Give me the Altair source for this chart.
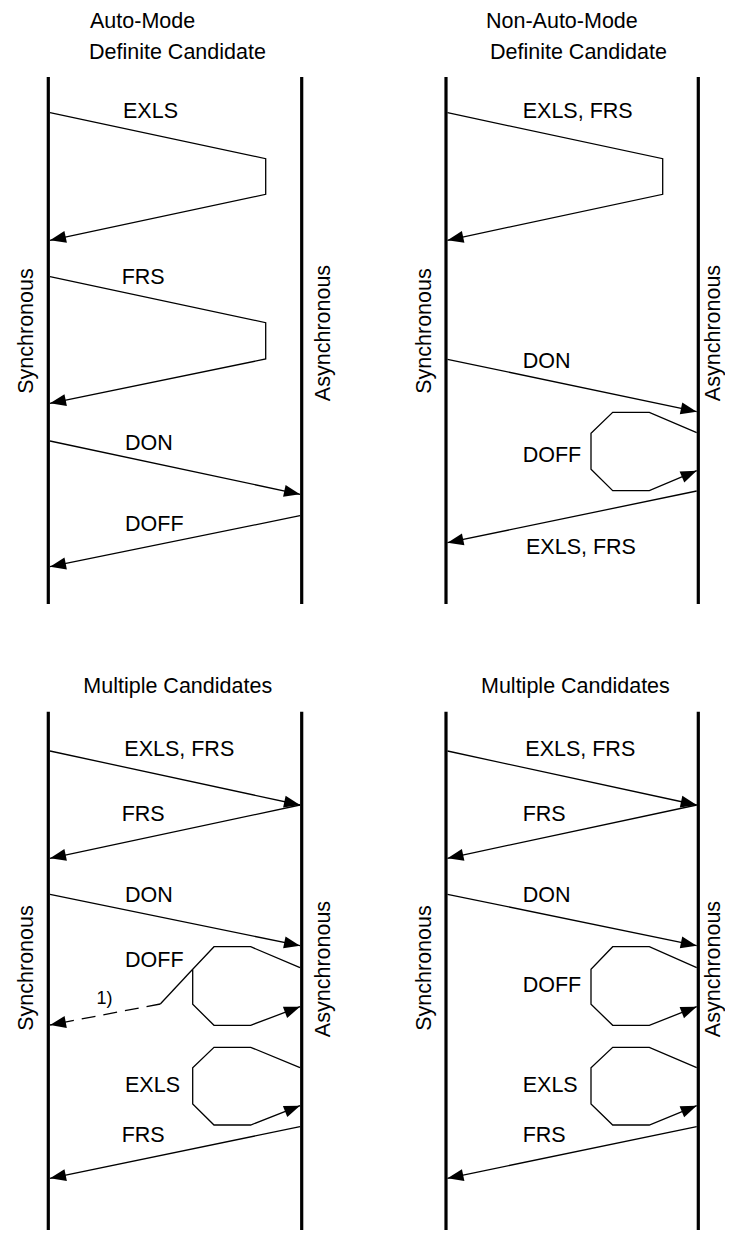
import math
import altair as alt
import pandas as pd

FONT = "Liberation Sans, Arial, sans-serif"
FS = 21.5

# ---------------- lifelines ----------------
life_x      = [48.3, 301.7, 446.0, 698.3, 48.3, 301.7, 446.0, 698.3]
life_top    = [77, 77, 77, 77, 711.7, 711.7, 711.7, 711.7]
life_bottom = [604, 604, 604, 604, 1240, 1240, 1240, 1240]

# ---------------- panel titles ----------------
title_text = ["Auto-Mode", "Definite Candidate", "Non-Auto-Mode", "Definite Candidate",
              "Multiple Candidates", "Multiple Candidates"]
title_x = [90, 89, 486, 490, 83.3, 481]
title_y = [29.3, 60, 29.3, 60, 694.3, 694.3]

# ---------------- messages (polylines) ----------------
msg_name = [
    "A_EXLS", "A_FRS", "A_DON", "A_DOFF",
    "B_EXLSFRS", "B_DON", "B_DOFF", "B_EXLSFRS2",
    "C_EXLSFRS", "C_FRS", "C_DON", "C_DOFF", "C_FN_SOLID", "C_FN_DASH", "C_EXLS", "C_FRS2",
    "D_EXLSFRS", "D_FRS", "D_DON", "D_DOFF", "D_EXLS", "D_FRS2",
]
msg_x = [
    [50, 265.7, 265.7, 50], [50, 265.7, 265.7, 50], [50, 300], [300, 50],
    [447.5, 662.7, 662.7, 447.5], [447.5, 696.7],
    [696.7, 649.3, 612.7, 591, 591, 612.7, 649.3, 696.7], [696.7, 447.5],
    [50, 300], [300, 50], [50, 300],
    [300, 250.7, 214, 192.7, 192.7, 214, 250.7, 300],
    [192.7, 160.3], [160.3, 50],
    [300, 250.7, 214, 192.7, 192.7, 214, 250.7, 300], [300, 50],
    [447.5, 696.7], [696.7, 447.5], [447.5, 696.7],
    [696.7, 649.3, 612.7, 591, 591, 612.7, 649.3, 696.7],
    [696.7, 649.3, 612.7, 591, 591, 612.7, 649.3, 696.7], [696.7, 447.5],
]
msg_y = [
    [112.7, 158.7, 194.3, 240.3], [276.7, 322.7, 359, 403.3], [441, 494.3], [515.7, 566.7],
    [112.7, 158.7, 194.3, 240.3], [359.3, 411.7],
    [432.7, 412.3, 412.3, 433.3, 469.3, 490.7, 490.7, 470.7], [491, 542.7],
    [751, 805], [805, 858.3], [894.3, 945.7],
    [967.7, 946.7, 946.7, 969.3, 1004.3, 1025.3, 1025.3, 1006.7],
    [969.3, 1004], [1004, 1025],
    [1067.7, 1047.3, 1047.3, 1067.7, 1104, 1125, 1125, 1105.7], [1126.7, 1178.3],
    [751, 805], [805, 858.3], [894.3, 945.7],
    [967.7, 946.7, 946.7, 969.3, 1004.3, 1025.3, 1025.3, 1006.7],
    [1067.7, 1047.3, 1047.3, 1067.7, 1104, 1125, 1125, 1105.7], [1126.7, 1178.3],
]
msg_dashed = [n == "C_FN_DASH" for n in msg_name]
msg_arrow = [n != "C_FN_SOLID" for n in msg_name]

# ---------------- message labels ----------------
label_text = ["EXLS", "FRS", "DON", "DOFF",
              "EXLS, FRS", "DON", "DOFF", "EXLS, FRS",
              "EXLS, FRS", "FRS", "DON", "DOFF", "EXLS", "FRS",
              "EXLS, FRS", "FRS", "DON", "DOFF", "EXLS", "FRS"]
label_x = [123, 121.7, 125, 125,
           522.7, 522.7, 522.7, 526,
           124.3, 121.7, 125, 125, 125, 121.7,
           525.3, 522.7, 522.7, 522.7, 522.7, 522.7]
label_y = [119.3, 285, 450.7, 532.3,
           119.3, 369, 462.7, 555,
           757.3, 821.7, 903.3, 968.3, 1093.3, 1142.7,
           757.3, 821.7, 903.3, 993.3, 1093.3, 1142.7]

note_text = ["1)"]
note_x = [96.5]
note_y = [1004]

# ---------------- lifeline names (vertical) ----------------
side_text = ["Synchronous", "Asynchronous", "Synchronous", "Asynchronous",
             "Synchronous", "Asynchronous", "Synchronous", "Asynchronous"]
side_x = [33, 330, 431, 720, 33, 330, 431, 720]
side_y = [331, 333, 331, 333, 968, 969, 968, 969]

# ---------------- build tables ----------------
life_df = pd.DataFrame({"x": life_x, "y": life_top, "y2": life_bottom})
title_df = pd.DataFrame({"t": title_text, "x": title_x, "y": title_y})
label_df = pd.DataFrame({"t": label_text, "x": label_x, "y": label_y})
note_df = pd.DataFrame({"t": note_text, "x": note_x, "y": note_y})
side_df = pd.DataFrame({"t": side_text, "x": side_x, "y": side_y})

rows, arrows = [], []
for name, xs, ys, dashed, arrow in zip(msg_name, msg_x, msg_y, msg_dashed, msg_arrow):
    for i, (px, py) in enumerate(zip(xs, ys)):
        rows.append({"msg": name, "i": i, "x": px, "y": py, "dashed": dashed})
    if arrow:
        dx, dy = xs[-1] - xs[-2], ys[-1] - ys[-2]
        ang = math.degrees(math.atan2(dy, dx)) % 360
        arrows.append({"x": xs[-1], "y": ys[-1], "angle": ang})
line_df = pd.DataFrame(rows)
arrow_df = pd.DataFrame(arrows)

W, H = 717, 1222
X0, Y0 = 8, 8
X = alt.Scale(domain=[X0, X0 + W], nice=False, zero=False)
Y = alt.Scale(domain=[Y0, Y0 + H], nice=False, zero=False, reverse=True)


def xe(f="x"):
    return alt.X(f"{f}:Q", scale=X, axis=None)


def ye(f="y"):
    return alt.Y(f"{f}:Q", scale=Y, axis=None)


lifelines = alt.Chart(life_df).mark_rule(color="black", strokeWidth=3.2).encode(
    x=xe(), y=ye(), y2="y2:Q"
)

solid = alt.Chart(line_df[~line_df["dashed"]]).mark_line(
    color="black", strokeWidth=1.3
).encode(x=xe(), y=ye(), detail="msg:N", order="i:Q")

dashed = alt.Chart(line_df[line_df["dashed"]]).mark_line(
    color="black", strokeWidth=1.3, strokeDash=[14, 8]
).encode(x=xe(), y=ye(), detail="msg:N", order="i:Q")

heads = alt.Chart(arrow_df).mark_point(
    shape="M0,0L-2,-0.75L-2,0.75Z", filled=True, size=256, color="black",
    opacity=1, strokeWidth=0
).encode(x=xe(), y=ye(), angle=alt.Angle("angle:Q", scale=None))

titles = alt.Chart(title_df).mark_text(
    align="left", baseline="alphabetic", font=FONT, fontSize=FS, color="black", dy=-1
).encode(x=xe(), y=ye(), text="t:N")

labels = alt.Chart(label_df).mark_text(
    align="left", baseline="alphabetic", font=FONT, fontSize=FS, color="black", dy=-1
).encode(x=xe(), y=ye(), text="t:N")

notes = alt.Chart(note_df).mark_text(
    align="left", baseline="alphabetic", font=FONT, fontSize=18, color="black"
).encode(x=xe(), y=ye(), text="t:N")

sides = alt.Chart(side_df).mark_text(
    align="center", baseline="alphabetic", font=FONT, fontSize=FS, color="black",
    angle=270
).encode(x=xe(), y=ye(), text="t:N")

chart = alt.layer(
    lifelines, solid, dashed, heads, titles, labels, notes, sides
).properties(
    width=W, height=H, padding=0, background="white",
    autosize=alt.AutoSizeParams(type="none")
).configure_view(strokeWidth=0)

chart.save("out.html", embed_options={"renderer": "svg", "actions": False})
